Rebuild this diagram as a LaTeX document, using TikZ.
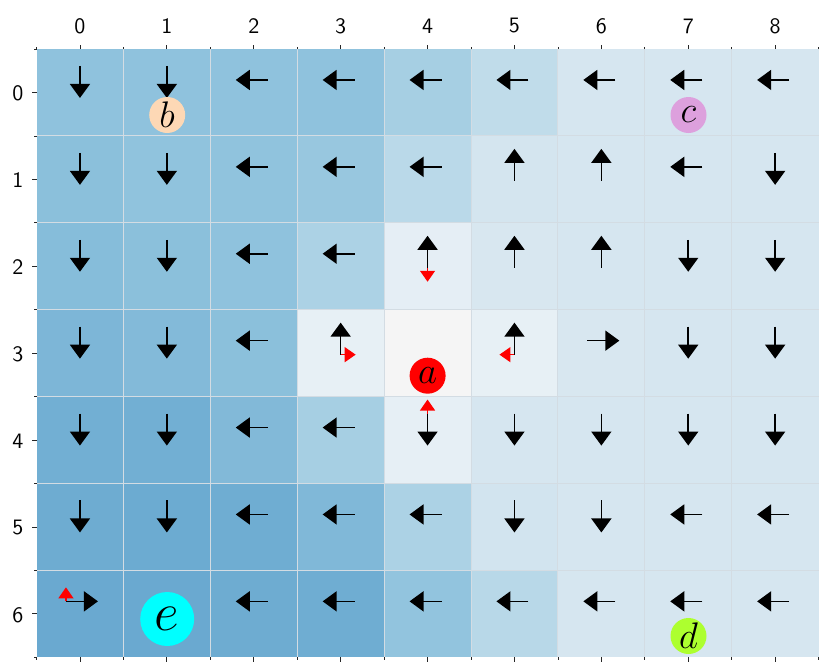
\RequirePackage{fix-cm}
\documentclass[tikz,border=0pt]{standalone}
\usepackage{graphicx}
\usetikzlibrary{arrows.meta}
\definecolor{peach}{HTML}{FDD8B5}
\definecolor{plumc}{HTML}{DDA0DD}
\definecolor{lime}{HTML}{ADFF2F}
\definecolor{aqua}{HTML}{00FFFF}
\definecolor{pure red}{HTML}{FF0000}
\definecolor{gridc}{HTML}{D3DCE3}
\newcommand\ticktext[1]{\scalebox{2.2}{\sffamily\fontsize{10}{12}\selectfont #1}}
\begin{document}
\begin{tikzpicture}[x=1pt,y=-1pt,
  pol/.style={line width=1.6pt,-{Triangle[length=14pt,width=20pt]}},
  alt/.style={pure red,line width=1.3pt,-{Triangle[length=11pt,width=15pt]}},
  tick/.style={line width=0.9pt,black!85},
  ticklab/.style={inner sep=0pt},
  goal/.style={circle,inner sep=0pt,minimum size=36pt,font=\fontsize{37}{37}\selectfont}]
\useasboundingbox (0,0) rectangle (830,670);
\def\L{36.5}\def\T{49}\def\W{86.9}
% heat map cells
\foreach \r/\cols in {
 0/{8FC2DD,8FC2DD,8FC2DD,8FC2DD,A6CFE3,C0DCEA,D6E6F0,D6E6F0,D6E6F0},
 1/{8BC0DB,90C3DD,90C3DD,98C7DF,BAD9E9,D4E5EF,D6E6F0,D6E6F0,D6E6F0},
 2/{86BDDA,8BC0DB,8FC2DD,ACD2E5,E5EEF5,D8E7F0,D6E6F0,D6E6F0,D6E6F0},
 3/{7DB6D7,83BAD9,8BC0DB,E7F0F5,F5F5F5,E7F0F5,D8E7F0,D6E6F0,D6E6F0},
 4/{72AFD3,72AFD3,82B9D8,A6CFE3,E6EFF5,D6E6F0,D6E6F0,D6E6F0,D6E6F0},
 5/{6EACD1,6CABD1,6FADD2,80B8D8,ACD2E5,D2E4EF,D6E6F0,D6E6F0,D6E6F0},
 6/{6AA9D0,6AA9D0,6EACD1,6FADD2,92C4DE,B8D8E8,D6E6F0,D6E6F0,D6E6F0}}{
  \foreach \col [count=\c from 0] in \cols {
    \edef\tmp{\noexpand\definecolor{cellc}{HTML}{\col}}\tmp
    \fill[cellc] ({\L+\c*\W},{\T+\r*\W}) rectangle +(\W,\W);
  }
}
% grid lines
\foreach \i in {1,...,8} \draw[gridc,line width=1pt] ({\L+\i*\W},\T) -- ({\L+\i*\W},{\T+7*\W});
\foreach \j in {1,...,6} \draw[gridc,line width=1pt] (\L,{\T+\j*\W}) -- ({\L+9*\W},{\T+\j*\W});
% ticks and labels
\foreach \i in {0,...,8} {
  \draw[tick] ({\L+(\i+0.5)*\W},\T) -- ++(0,-4.5);
  \draw[tick] ({\L+(\i+0.5)*\W},{\T+7*\W}) -- ++(0,4.5);
  \node[ticklab] (top\i) at ({\L+(\i+0.5)*\W},26) {\ticktext{\i}};
}
\foreach \i in {0,...,9} {
  \draw[tick,line width=0.7pt] ({\L+\i*\W},\T) -- ++(0,-2.5);
  \draw[tick,line width=0.7pt] ({\L+\i*\W},{\T+7*\W}) -- ++(0,2.5);
}
\foreach \j in {0,...,6} {
  \draw[tick] (\L,{\T+(\j+0.5)*\W}) -- ++(-4.5,0);
  \node[ticklab] (left\j) at (18,{\T+(\j+0.5)*\W+1}) {\ticktext{\j}};
}
\foreach \j in {0,...,7} \draw[tick,line width=0.7pt] (\L,{\T+\j*\W}) -- ++(-2.5,0);
% policy arrows
\def\setdir#1{%
  \if#1D\def\dx{0}\def\dy{1}\fi
  \if#1U\def\dx{0}\def\dy{-1}\fi
  \if#1L\def\dx{-1}\def\dy{0}\fi
  \if#1R\def\dx{1}\def\dy{0}\fi}
\foreach \r/\dirs in {
 0/{D,D,L,L,L,L,L,L,L},
 1/{D,D,L,L,L,U,U,L,D},
 2/{D,D,L,L,U,U,U,D,D},
 3/{D,D,L,U,N,U,R,D,D},
 4/{D,D,L,L,D,D,D,D,D},
 5/{D,D,L,L,L,D,D,L,L},
 6/{R,N,L,L,L,L,L,L,L}}{
  \foreach \d [count=\c from 0] in \dirs {
    \if\d N\else
      \setdir{\d}
      \pgfmathsetmacro\px{\L+(\c+0.5)*\W}
      \pgfmathsetmacro\py{\T+(\r+0.5)*\W-12.5}
      \draw[pol] ({\px-14*\dx},{\py-14*\dy}) -- ({\px+18*\dx},{\py+18*\dy});
    \fi
  }
}
% second-best actions (red)
\coordinate (t24) at ({\L+4.5*\W},{\T+2.5*\W+1.5});
\coordinate (t33) at ({\L+3.5*\W},{\T+3.5*\W+1.5});
\coordinate (t35) at ({\L+5.5*\W},{\T+3.5*\W+1.5});
\coordinate (t44) at ({\L+4.5*\W},{\T+4.5*\W-26.5});
\coordinate (t60) at ({\L+0.5*\W-14},{\T+6.5*\W-12.5});
\draw[alt] (t24) -- ++(0,14);
\draw[alt] (t33) -- ++(15,0);
\draw[alt] (t35) -- ++(-15,0);
\draw[alt] (t44) -- ++(0,-14);
\draw[alt] (t60) -- ++(0,-14);
% special states
\node[goal,fill=peach] (b) at (167.2,115) {$b$};
\node[goal,fill=plumc] (c) at (688.5,115) {$c$};
\node[goal,fill=pure red] (a) at (427.6,375.7) {$a$};
\node[goal,fill=lime] (d) at (688.5,636) {$d$};
\node[goal,fill=aqua,minimum size=54pt,font=\fontsize{54}{54}\selectfont] (e) at (167.2,619) {$e$};
\end{tikzpicture}
\end{document}
